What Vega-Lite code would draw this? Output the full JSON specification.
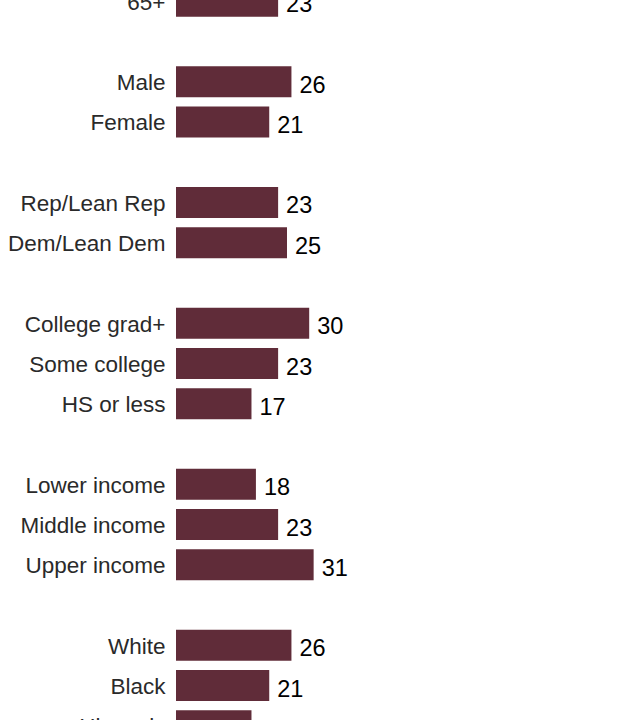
{
  "$schema": "https://vega.github.io/schema/vega-lite/v6.json",
  "width": 444,
  "height": 720,
  "autosize": {"type": "none"},
  "padding": {"left": 176, "top": 0, "right": 0, "bottom": 0},
  "background": "white",
  "config": {"view": {"stroke": null}},
  "data": {
    "values": [
      {"group": "65+", "value": 23},
      {"group": "Male", "value": 26},
      {"group": "Female", "value": 21},
      {"group": "Rep/Lean Rep", "value": 23},
      {"group": "Dem/Lean Dem", "value": 25},
      {"group": "College grad+", "value": 30},
      {"group": "Some college", "value": 23},
      {"group": "HS or less", "value": 17},
      {"group": "Lower income", "value": 18},
      {"group": "Middle income", "value": 23},
      {"group": "Upper income", "value": 31},
      {"group": "White", "value": 26},
      {"group": "Black", "value": 21},
      {"group": "Hispanic", "value": 17}
    ]
  },
  "encoding": {
    "y": {
      "field": "group",
      "type": "nominal",
      "sort": null,
      "scale": {
        "domain": ["65+", " ", "Male", "Female", "  ", "Rep/Lean Rep", "Dem/Lean Dem", "   ", "College grad+", "Some college", "HS or less", "    ", "Lower income", "Middle income", "Upper income", "     ", "White", "Black", "Hispanic"],
        "range": [-19, 746],
        "paddingInner": 0.23,
        "paddingOuter": 0.115
      },
      "axis": {
        "title": null,
        "domain": false,
        "ticks": false,
        "labelPadding": 11,
        "labelOffset": 1.5,
        "labelFont": "Liberation Sans",
        "labelFontSize": 22.5,
        "labelColor": "#2a2a2a",
        "labelLimit": 300
      }
    }
  },
  "layer": [
    {
      "mark": {"type": "bar", "color": "#602c39"},
      "encoding": {
        "x": {"field": "value", "type": "quantitative", "scale": {"domain": [0, 99.5]}, "axis": null}
      }
    },
    {
      "mark": {"type": "text", "align": "left", "baseline": "middle", "dx": 8, "dy": 4, "font": "Liberation Sans", "fontSize": 23.5, "color": "#000000"},
      "encoding": {
        "x": {"field": "value", "type": "quantitative"},
        "text": {"field": "value", "type": "quantitative"}
      }
    }
  ]
}
